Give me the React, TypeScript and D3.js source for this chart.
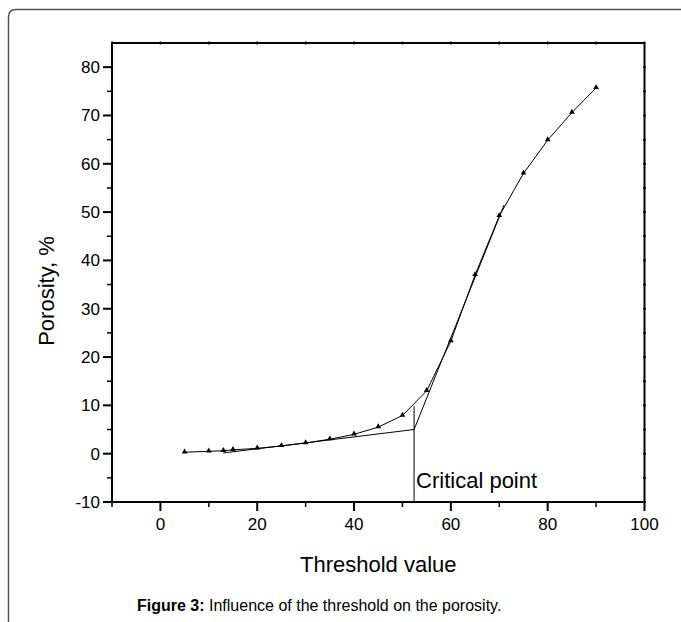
import React from "react";
import * as d3 from "d3";

const thresholds = [5, 10, 13, 15, 20, 25, 30, 35, 40, 45, 50, 55, 60, 65, 70, 75, 80, 85, 90];
const porosity = [0.3, 0.5, 0.6, 0.8, 1.1, 1.6, 2.2, 3.0, 4.0, 5.5, 7.9, 13.0, 23.3, 37.0, 49.2, 58.0, 64.9, 70.6, 75.7];
const fitX = [13, 52.4, 71];
const fitY = [0.15, 5.0, 51.5];
const criticalX = 52.4;
const criticalTop = 9.8;
const xTicks = [0, 20, 40, 60, 80, 100];
const xMinor = [-10, 10, 30, 50, 70, 90];
const yTicks = [-10, 0, 10, 20, 30, 40, 50, 60, 70, 80];
const yMinor = [-5, 5, 15, 25, 35, 45, 55, 65, 75];

const W = 681, H = 622;
const L = 112, R = 644.5, T = 43, B = 502;
const FONT = "'Liberation Sans', Arial, Helvetica, sans-serif";

export default function App() {
  const x = d3.scaleLinear().domain([-10, 100]).range([L, R]);
  const y = d3.scaleLinear().domain([-10, 85]).range([B, T]);
  const line = d3.line<number>().x((_, i) => x(thresholds[i])).y((d) => y(d));
  const fitLine = d3.line<number>().x((_, i) => x(fitX[i])).y((d) => y(d));
  const tri = d3.symbol().type(d3.symbolTriangle).size(14)();

  return (
    <div style={{ position: "absolute", left: 0, top: 0 }}>
      <svg width={W} height={H} style={{ display: "block", background: "#fff" }}>
        {/* frame */}
        <path d={`M8.5,${H + 5} L8.5,17 Q8.5,9.5 16,9.5 L${W + 5},9.5`} fill="none" stroke="#555" strokeWidth={1.5} />

        {/* data line */}
        <path d={line(porosity) || ""} fill="none" stroke="#000" strokeWidth={1} />
        {/* fit lines */}
        <path d={fitLine(fitY) || ""} fill="none" stroke="#000" strokeWidth={1} />
        <line x1={x(criticalX)} x2={x(criticalX)} y1={y(criticalTop)} y2={B} stroke="#000" strokeWidth={1} />
        {porosity.map((v, i) => (
          <path key={i} d={tri || ""} transform={`translate(${x(thresholds[i])},${y(v) - 0.5})`} fill="#000" />
        ))}

        {/* axes frame */}
        <rect x={L} y={T} width={R - L} height={B - T} fill="none" stroke="#000" strokeWidth={2} />

        {/* bottom ticks */}
        {xTicks.map((t) => (
          <line key={"xt" + t} x1={x(t)} x2={x(t)} y1={B} y2={B + 9} stroke="#000" strokeWidth={2} />
        ))}
        {xMinor.map((t) => (
          <line key={"xm" + t} x1={x(t)} x2={x(t)} y1={B} y2={B + 5} stroke="#000" strokeWidth={1.5} />
        ))}
        {/* top ticks */}
        {[...xTicks, ...xMinor].map((t) => (
          <line key={"xtt" + t} x1={x(t)} x2={x(t)} y1={T - 1.5} y2={T + 1.5} stroke="#000" strokeWidth={1.5} />
        ))}
        {/* left ticks */}
        {yTicks.map((t) => (
          <line key={"yt" + t} x1={L - 9} x2={L} y1={y(t)} y2={y(t)} stroke="#000" strokeWidth={2} />
        ))}
        {yMinor.map((t) => (
          <line key={"ym" + t} x1={L - 5} x2={L} y1={y(t)} y2={y(t)} stroke="#000" strokeWidth={1.5} />
        ))}
        {/* right ticks */}
        {[...yTicks, ...yMinor].map((t) => (
          <line key={"yrt" + t} x1={R - 1.5} x2={R + 1.5} y1={y(t)} y2={y(t)} stroke="#000" strokeWidth={1.5} />
        ))}

        {/* tick labels */}
        {xTicks.map((t) => (
          <text key={"xl" + t} x={x(t)} y={B + 28} textAnchor="middle" fontFamily={FONT} fontSize={17} fill="#000">
            {t}
          </text>
        ))}
        {yTicks.map((t) => (
          <text key={"yl" + t} x={L - 12} y={y(t) + 6} textAnchor="end" fontFamily={FONT} fontSize={17} fill="#000">
            {t}
          </text>
        ))}

        {/* annotations */}
        <text x={x(criticalX) + 2} y={488} fontFamily={FONT} fontSize={22} fill="#000">Critical point</text>
        <text x={(L + R) / 2} y={572} textAnchor="middle" fontFamily={FONT} fontSize={22} fill="#000">Threshold value</text>
        <text transform={`translate(54,${291}) rotate(-90)`} textAnchor="middle" fontFamily={FONT} fontSize={22} fill="#000">
          Porosity,  %
        </text>

        {/* caption */}
        <text x={137} y={611} fontFamily={FONT} fontSize={16} fill="#000" style={{ whiteSpace: "pre" }}>
          <tspan fontWeight="bold">Figure 3:</tspan>
          <tspan> Influence of the threshold on the porosity.</tspan>
        </text>
      </svg>
    </div>
  );
}
